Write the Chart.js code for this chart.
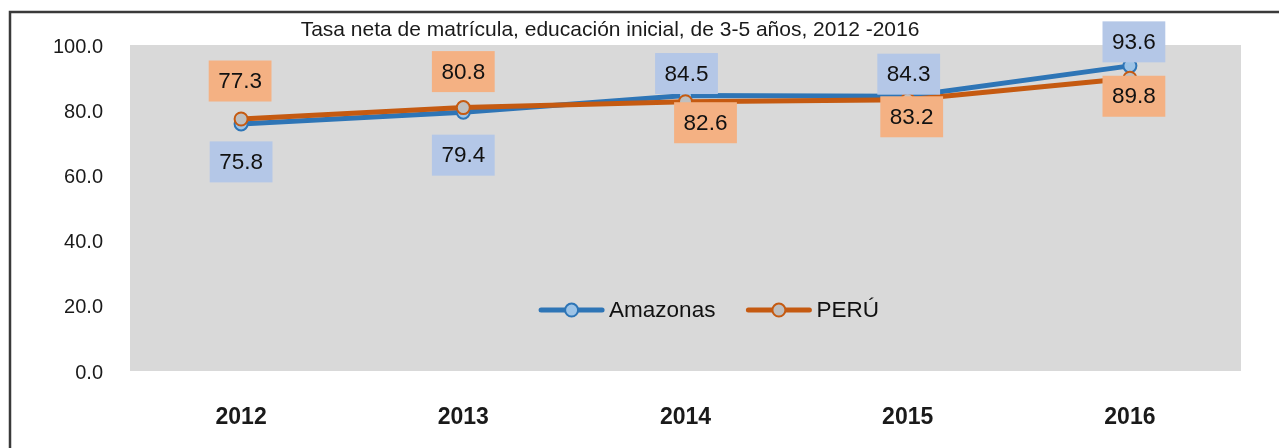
<!DOCTYPE html>
<html><head><meta charset="utf-8">
<script src="https://cdn.jsdelivr.net/npm/chart.js@4.4.1/dist/chart.umd.min.js"></script>
<style>html,body{margin:0;padding:0;background:#fff;overflow:hidden}</style>
</head><body>
<canvas id="c" width="1279" height="448"></canvas>
<script>
const chartTitle = 'Tasa neta de matrícula, educación inicial, de 3-5 años, 2012 -2016';
const years = ['2012', '2013', '2014', '2015', '2016'];
const seriesNames = ['Amazonas', 'PERÚ'];
const amazonas = [75.8, 79.4, 84.5, 84.3, 93.6];
const peru = [77.3, 80.8, 82.6, 83.2, 89.8];
const yTicks = [0, 20, 40, 60, 80, 100];

const FONT = "'Liberation Sans', Arial, sans-serif";
const labelFills = ['#b4c7e7', '#f4b183'];
// label box centre offsets (px) relative to each point
const labelOffsets = [
  [[0, 38], [0, 43], [1, -22], [1, -22], [4, -24]],
  [[-1, -38], [0, -36], [20, 21], [4, 17], [4, 18]]
];

const framePlugin = {
  id: 'frame',
  beforeDraw(chart) {
    const ctx = chart.ctx, ca = chart.chartArea;
    ctx.save();
    ctx.fillStyle = '#ffffff';
    ctx.fillRect(0, 0, chart.width, chart.height);
    ctx.strokeStyle = '#3a3a3a';
    ctx.lineWidth = 2.5;
    ctx.beginPath();
    ctx.moveTo(10, chart.height + 5);
    ctx.lineTo(10, 12);
    ctx.lineTo(chart.width + 5, 12);
    ctx.stroke();
    ctx.fillStyle = '#d9d9d9';
    ctx.fillRect(ca.left, ca.top, ca.right - ca.left, ca.bottom - ca.top);
    ctx.fillStyle = '#1a1a1a';
    ctx.font = '21px ' + FONT;
    ctx.textAlign = 'center';
    ctx.textBaseline = 'middle';
    ctx.fillText(chartTitle, 610, 30);
    ctx.restore();
  }
};

const labelPlugin = {
  id: 'boxLabels',
  afterDatasetsDraw(chart) {
    const ctx = chart.ctx;
    ctx.save();
    ctx.font = '22.5px ' + FONT;
    ctx.textAlign = 'center';
    ctx.textBaseline = 'middle';
    chart.data.datasets.forEach((ds, di) => {
      const meta = chart.getDatasetMeta(di);
      meta.data.forEach((pt, i) => {
        const txt = ds.data[i].toFixed(1);
        const off = labelOffsets[di][i];
        const cx = pt.x + off[0], cy = pt.y + off[1];
        const w = ctx.measureText(txt).width + 19, h = 41;
        ctx.fillStyle = labelFills[di];
        ctx.fillRect(cx - w / 2, cy - h / 2, w, h);
        ctx.fillStyle = '#111111';
        ctx.fillText(txt, cx, cy + 1);
      });
    });
    ctx.restore();
  }
};

const legendPlugin = {
  id: 'innerLegend',
  afterDraw(chart) {
    const ctx = chart.ctx, ca = chart.chartArea;
    ctx.save();
    ctx.font = '22.5px ' + FONT;
    ctx.textBaseline = 'middle';
    ctx.textAlign = 'left';
    const lineLen = 63, gap = 6, itemGap = 32;
    const items = chart.data.datasets.map(ds => ({ds, tw: ctx.measureText(ds.label).width}));
    let total = 0;
    items.forEach((it, i) => { total += lineLen + gap + it.tw + (i ? itemGap : 0); });
    let x = (ca.left + ca.right) / 2 + 24 - total / 2;
    const y = ca.top + (ca.bottom - ca.top) * 0.813;
    items.forEach((it, i) => {
      if (i) x += itemGap;
      const ds = it.ds;
      ctx.strokeStyle = ds.borderColor;
      ctx.lineWidth = 5;
      ctx.lineCap = 'round';
      ctx.beginPath();
      ctx.moveTo(x + 1, y);
      ctx.lineTo(x + lineLen - 1, y);
      ctx.stroke();
      ctx.beginPath();
      ctx.arc(x + lineLen / 2, y, 6.5, 0, Math.PI * 2);
      ctx.fillStyle = ds.pointBackgroundColor;
      ctx.fill();
      ctx.lineWidth = 2;
      ctx.stroke();
      x += lineLen + gap;
      ctx.fillStyle = '#111111';
      ctx.fillText(ds.label, x, y + 1);
      x += it.tw;
    });
    ctx.restore();
  }
};

new Chart(document.getElementById('c'), {
  type: 'line',
  data: {
    labels: years,
    datasets: [
      {
        label: seriesNames[0], data: amazonas, order: 1,
        borderColor: '#2e75b6', borderWidth: 5, tension: 0,
        pointRadius: 6.5, pointHoverRadius: 6.5, pointBorderWidth: 2,
        pointBackgroundColor: '#9dc3e6', pointBorderColor: '#2e75b6'
      },
      {
        label: seriesNames[1], data: peru, order: 0,
        borderColor: '#c55a11', borderWidth: 5, tension: 0,
        pointRadius: 6.5, pointHoverRadius: 6.5, pointBorderWidth: 2,
        pointBackgroundColor: '#bfbfbf', pointBorderColor: '#c55a11'
      }
    ]
  },
  options: {
    responsive: false,
    animation: false,
    events: [],
    layout: { padding: { top: 45, right: 38, bottom: 0, left: 0 } },
    plugins: { legend: { display: false }, title: { display: false }, tooltip: { enabled: false } },
    scales: {
      x: {
        offset: true,
        grid: { display: false },
        border: { display: false },
        ticks: { color: '#1a1a1a', padding: 25, font: { family: FONT, size: 23, weight: 'bold' } },
        afterFit(scale) { scale.height = 77; }
      },
      y: {
        min: 0, max: 100,
        grid: { display: false, drawTicks: false },
        border: { display: false },
        afterBuildTicks(scale) { scale.ticks = yTicks.map(v => ({ value: v })); },
        ticks: {
          color: '#1a1a1a', padding: 27, labelOffset: 2, font: { family: FONT, size: 20 },
          callback: v => Number(v).toFixed(1)
        },
        afterFit(scale) { scale.width = 130; }
      }
    }
  },
  plugins: [framePlugin, labelPlugin, legendPlugin]
});
</script>
</body></html>
